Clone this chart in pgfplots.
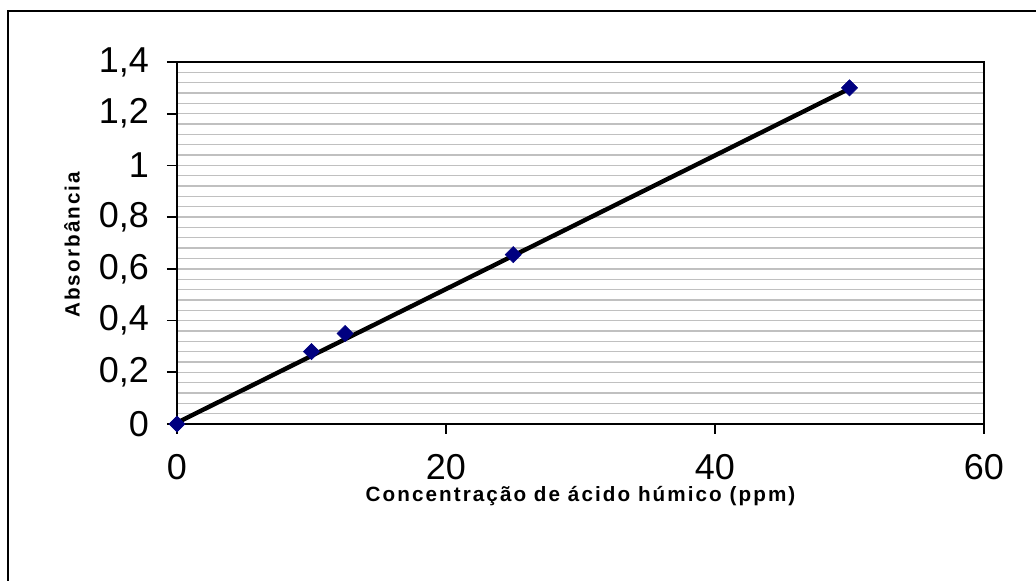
\documentclass[border=0pt]{standalone}
\usepackage{fontspec}
\setmainfont{Liberation Sans}
\usepackage{pgfplots}
\pgfplotsset{compat=1.18}
\definecolor{navy}{RGB}{0,0,128}
\definecolor{gridgray}{RGB}{192,192,192}
\begin{document}
\begin{tikzpicture}
\path[use as bounding box] (0pt,0pt) rectangle (777pt,435.75pt);
\draw[line width=1.2pt,black] (6pt,0pt) -- (6pt,427.5pt) -- (777pt,427.5pt);
\begin{axis}[
  at={(132.75pt,117.75pt)}, anchor=south west,
  scale only axis, width=605.25pt, height=271.5pt,
  xmin=0, xmax=60, ymin=0, ymax=1.4,
  xtick={0,20,40,60},
  ytick={0,0.2,0.4,0.6,0.8,1.0,1.2,1.4},
  minor y tick num=4,
  ymajorgrids, yminorgrids,
  major grid style={gridgray, line width=1pt},
  minor grid style={gridgray, line width=1pt},
  tick align=outside,
  major tick length=7.5pt,
  minor tick length=0pt,
  axis line style={black, line width=1.2pt},
  tick style={black, line width=1.2pt},
  xtick pos=bottom, ytick pos=left,
  tick label style={font=\fontsize{27}{30}\selectfont},
  xticklabel style={yshift=-12pt},
  yticklabel style={xshift=-10pt},
  /pgf/number format/.cd, use comma, fixed, assume math mode=true,
  /pgfplots/.cd,
  xlabel={\addfontfeatures{LetterSpace=10}Concentração de ácido húmico (ppm)},
  ylabel={\addfontfeatures{LetterSpace=10}Absorbância},
  every axis x label/.style={at={(axis description cs:0.5,-0.198)}, anchor=center, font=\fontsize{15.5}{18}\selectfont\bfseries},
  every axis y label/.style={at={(axis description cs:-0.1301,0.495)}, anchor=center, rotate=90, font=\fontsize{15.5}{18}\selectfont\bfseries},
  clip=false,
]
\addplot[only marks, mark=square*, mark size=4.3pt, mark options={rotate=45}, color=navy] coordinates {
  (0,0) (10,0.28) (12.5,0.35) (25,0.655) (50,1.30)
};
\addplot[black, line width=3.3pt] coordinates {(0,0.005) (50,1.297)};
\end{axis}
\end{tikzpicture}
\end{document}
